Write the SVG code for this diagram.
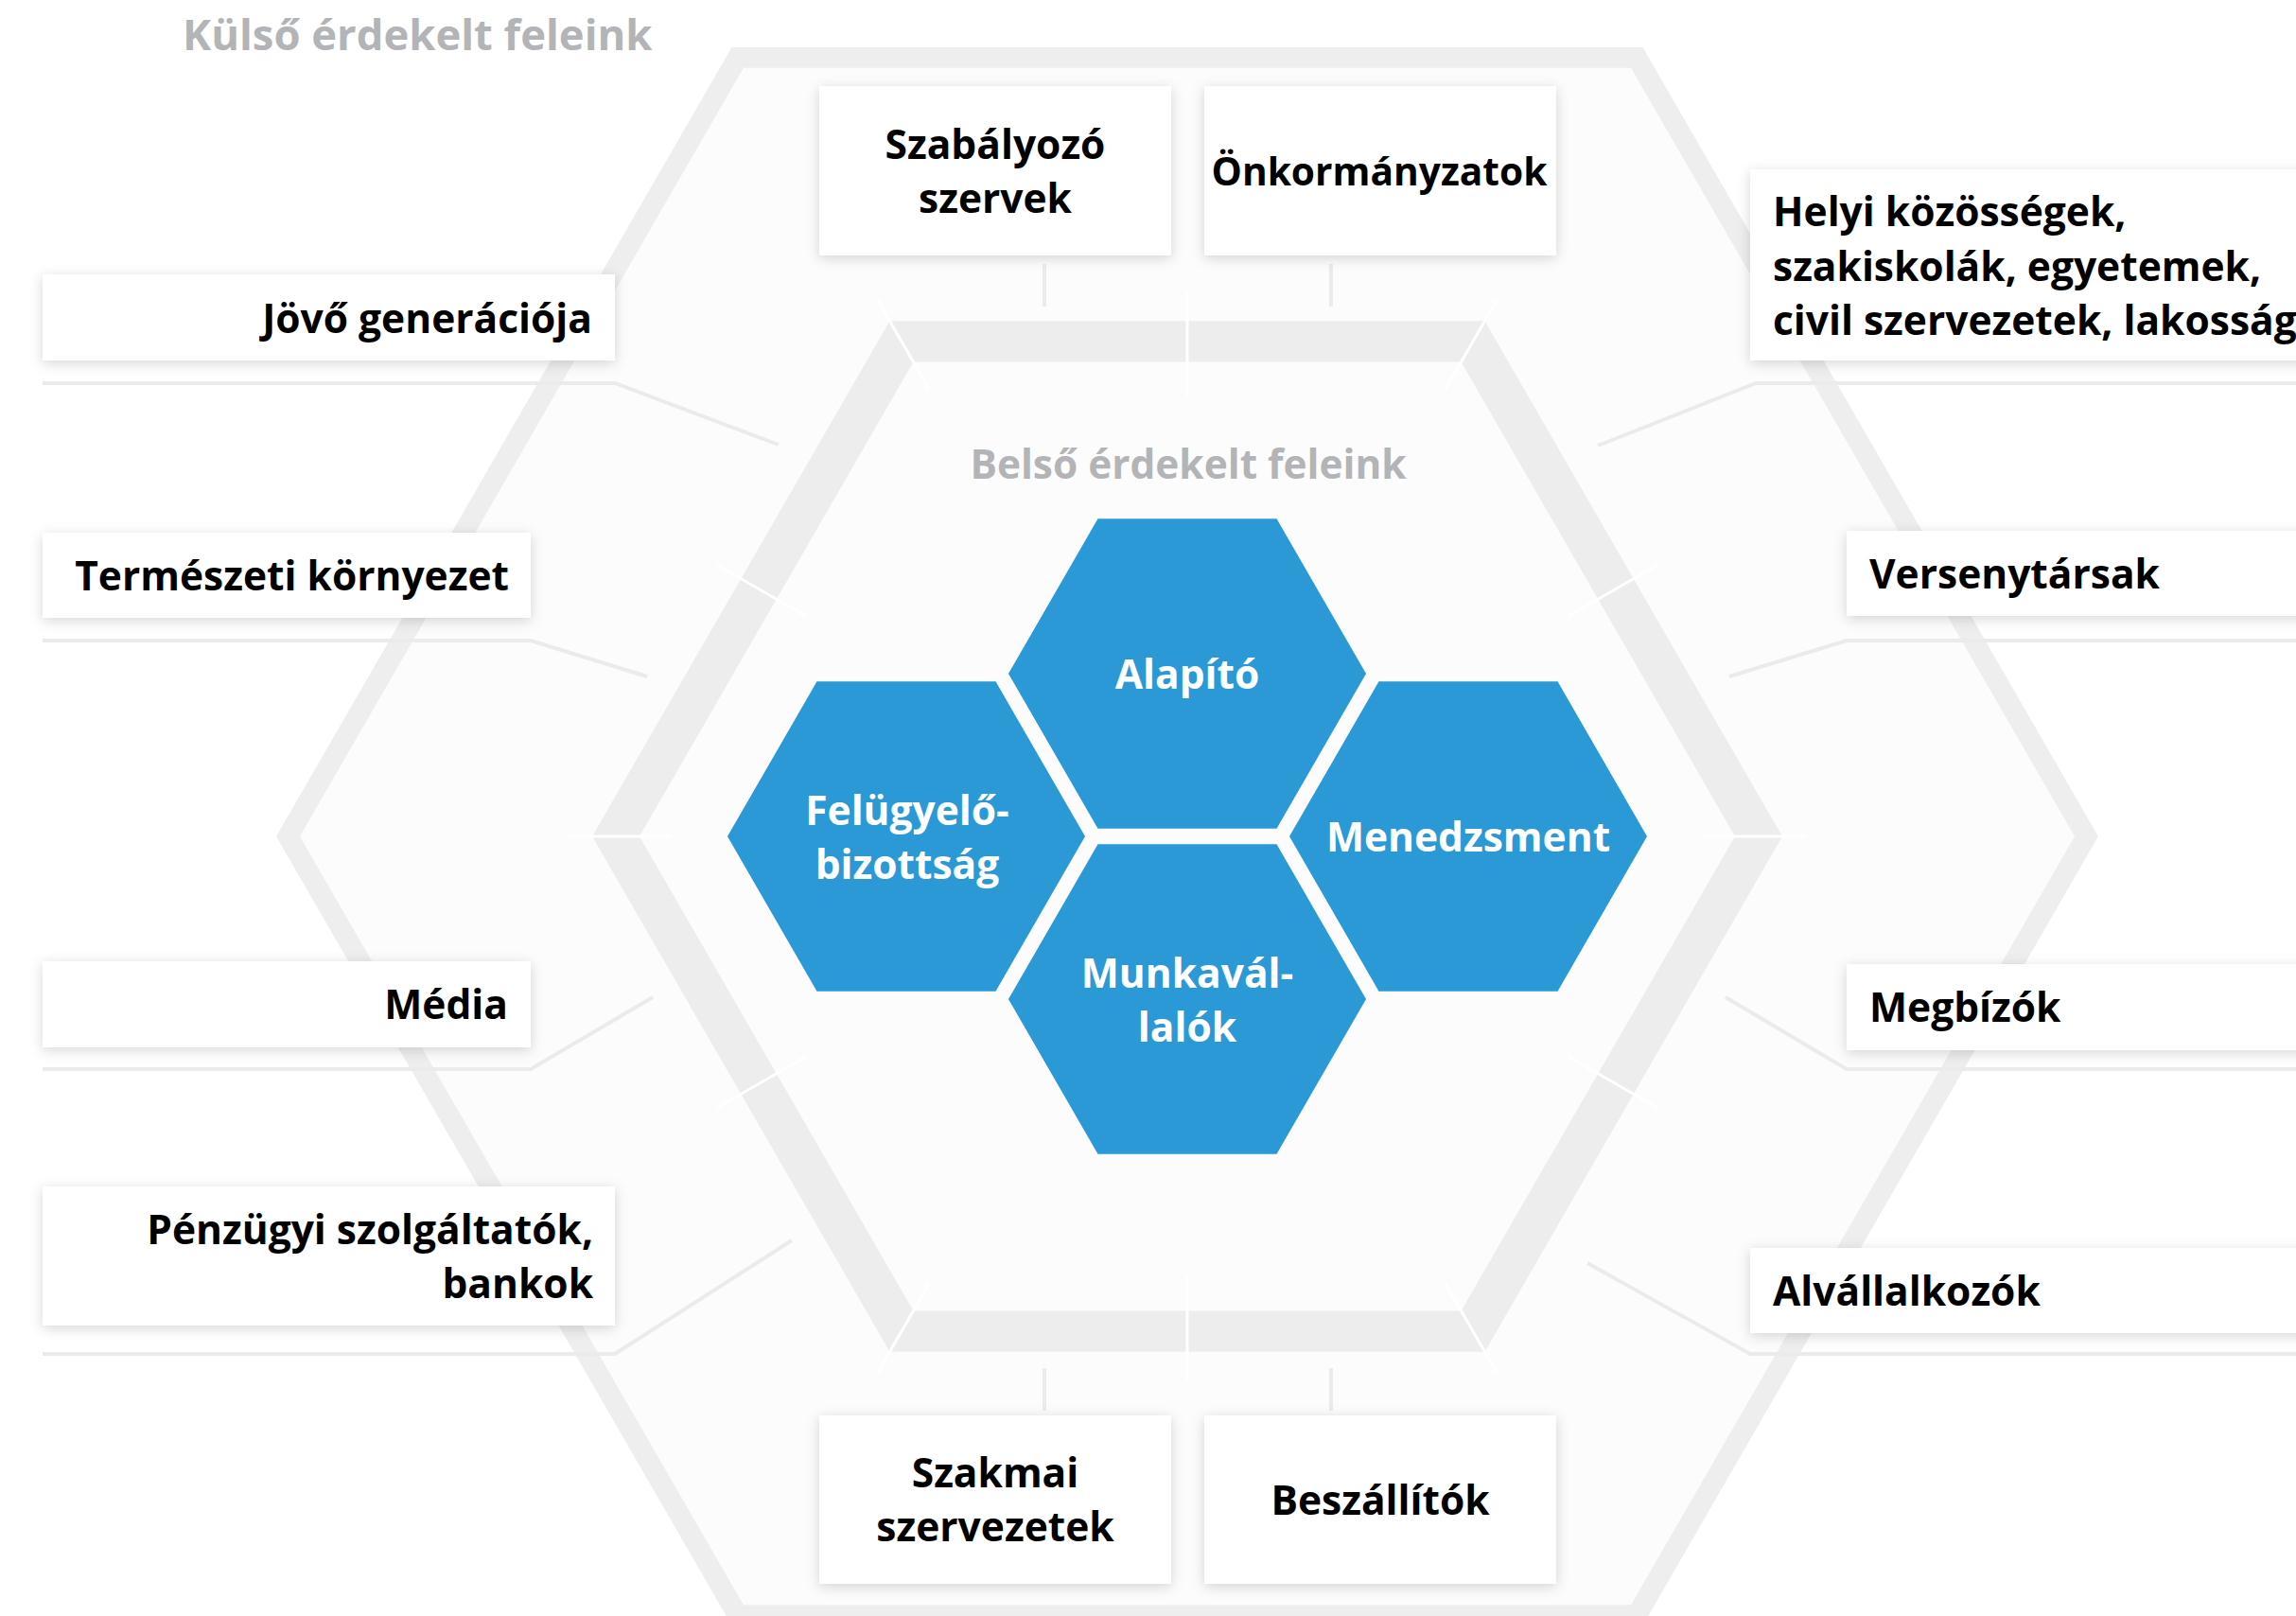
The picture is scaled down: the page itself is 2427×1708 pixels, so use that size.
<svg xmlns="http://www.w3.org/2000/svg" width="2427" height="1708" viewBox="0 0 2427 1708">
<defs>
<filter id="sh" x="-10%" y="-30%" width="120%" height="160%">
<feDropShadow dx="0" dy="3" stdDeviation="7" flood-color="#000" flood-opacity="0.16"/>
</filter>
</defs>
<style>
.box{fill:#fff;filter:url(#sh)}
.t{font-family:"Open Sans","Liberation Sans",sans-serif;font-weight:700;font-size:42.5px;fill:#000}
.t.narrow{font-size:40.7px}
.w{font-family:"Open Sans","Liberation Sans",sans-serif;font-weight:700;font-size:42.5px;fill:#fff;text-anchor:middle}
.g{font-family:"Open Sans","Liberation Sans",sans-serif;font-weight:700;fill:#b3b4b7}
.c{fill:none;stroke:#ebebeb;stroke-width:4}
.d{stroke:#fff;stroke-width:3}
.hex{fill:#2a99d6}
.mid{text-anchor:middle}
.end{text-anchor:end}
</style>
<rect width="2427" height="1708" fill="#fff"/>
<g id="frame">
<polygon points="317,884 786,71.7 1724,71.7 2193,884 1724,1696.3 786,1696.3" fill="#fcfcfc"/>
<path fill="#eeeeee" fill-rule="evenodd" d="M292,884 L773.5,50 L1736.5,50 L2218,884 L1736.5,1718 L773.5,1718 Z M317,884 L786,1696.3 L1724,1696.3 L2193,884 L1724,71.7 L786,71.7 Z"/>
<path fill="#ededed" fill-rule="evenodd" d="M626,884 L940.5,339.3 L1569.5,339.3 L1884,884 L1569.5,1428.7 L940.5,1428.7 Z M676,884 L965.5,1385.4 L1544.5,1385.4 L1834,884 L1544.5,382.6 L965.5,382.6 Z"/>
<g class="d">
<line x1="1910" y1="884" x2="1800" y2="884"/>
<line x1="600" y1="884" x2="710" y2="884"/>
<line x1="927.5" y1="316.8" x2="982.5" y2="412"/>
<line x1="1582.5" y1="316.8" x2="1527.5" y2="412"/>
<line x1="927.5" y1="1451.2" x2="982.5" y2="1356"/>
<line x1="1582.5" y1="1451.2" x2="1527.5" y2="1356"/>
<line x1="1255" y1="309" x2="1255" y2="419"/>
<line x1="1255" y1="1459" x2="1255" y2="1349"/>
<line x1="1753" y1="596.5" x2="1657.7" y2="651.5"/>
<line x1="757" y1="596.5" x2="852.3" y2="651.5"/>
<line x1="1753" y1="1171.5" x2="1657.7" y2="1116.5"/>
<line x1="757" y1="1171.5" x2="852.3" y2="1116.5"/>
</g>
<text class="g" x="193" y="53" font-size="45.4">Külső érdekelt feleink</text>
<text class="g mid" x="1256" y="506" font-size="42.4">Belső érdekelt feleink</text>
</g>
<g id="connectors">
<polyline class="c" points="45,405 650,405 823,470"/>
<polyline class="c" points="45,677 561,677 684,715"/>
<polyline class="c" points="45,1130 561,1130 690,1054"/>
<polyline class="c" points="45,1431 650,1431 837,1311"/>
<polyline class="c" points="2427,405 1856,405 1689,471"/>
<polyline class="c" points="2427,677 1952,677 1828,715"/>
<polyline class="c" points="2427,1130 1952,1130 1824,1054"/>
<polyline class="c" points="2427,1431 1850,1431 1678,1335"/>
<line class="c" x1="1104" y1="279" x2="1104" y2="324"/>
<line class="c" x1="1407" y1="279" x2="1407" y2="324"/>
<line class="c" x1="1104" y1="1446" x2="1104" y2="1491"/>
<line class="c" x1="1407" y1="1446" x2="1407" y2="1491"/>
</g>
<g id="szabalyozo"><rect class="box" x="866" y="91" width="372" height="179"/><text class="t mid" x="1052" y="168">Szabályozó</text><text class="t mid" x="1052" y="225">szervek</text></g>
<g id="onkormanyzatok"><rect class="box" x="1273" y="91" width="372" height="179"/><text class="t narrow mid" x="1458" y="196">Önkormányzatok</text></g>
<g id="jovo"><rect class="box" x="45" y="290" width="605" height="91"/><text class="t end" x="626" y="352">Jövő generációja</text></g>
<g id="termeszeti"><rect class="box" x="45" y="563" width="516" height="90"/><text class="t end" x="538" y="624">Természeti környezet</text></g>
<g id="media"><rect class="box" x="45" y="1016" width="516" height="91"/><text class="t end" x="537" y="1077">Média</text></g>
<g id="penzugyi"><rect class="box" x="45" y="1254" width="605" height="147"/><text class="t end" x="627" y="1315">Pénzügyi szolgáltatók,</text><text class="t end" x="627" y="1372">bankok</text></g>
<g id="szakmai"><rect class="box" x="866" y="1496" width="372" height="178"/><text class="t mid" x="1052" y="1572">Szakmai</text><text class="t mid" x="1052" y="1629">szervezetek</text></g>
<g id="beszallitok"><rect class="box" x="1273" y="1496" width="372" height="178"/><text class="t mid" x="1459" y="1601">Beszállítók</text></g>
<g id="helyi"><rect class="box" x="1850" y="179" width="620" height="202"/><text class="t" x="1874" y="239">Helyi közösségek,</text><text class="t" x="1874" y="297">szakiskolák, egyetemek,</text><text class="t" x="1874" y="354">civil szervezetek, lakosság</text></g>
<g id="versenytarsak"><rect class="box" x="1952" y="561" width="520" height="90"/><text class="t" x="1976" y="622">Versenytársak</text></g>
<g id="megbizok"><rect class="box" x="1952" y="1019" width="520" height="91"/><text class="t" x="1976" y="1080">Megbízók</text></g>
<g id="alvallalkozok"><rect class="box" x="1850" y="1319" width="620" height="90"/><text class="t" x="1874" y="1380">Alvállalkozók</text></g>
<g id="alapito"><polygon class="hex" points="1066,712 1160.5,548.3 1349.5,548.3 1444,712 1349.5,875.7 1160.5,875.7"/><text class="w" x="1255" y="728">Alapító</text></g>
<g id="felugyelo"><polygon class="hex" points="769,884 863.5,720.3 1052.5,720.3 1147,884 1052.5,1047.7 863.5,1047.7"/><text class="w" x="959" y="872">Felügyelő-</text><text class="w" x="959" y="929">bizottság</text></g>
<g id="menedzsment"><polygon class="hex" points="1363,884 1457.5,720.3 1646.5,720.3 1741,884 1646.5,1047.7 1457.5,1047.7"/><text class="w" x="1552" y="900">Menedzsment</text></g>
<g id="munkavallalok"><polygon class="hex" points="1066,1056 1160.5,892.3 1349.5,892.3 1444,1056 1349.5,1219.7 1160.5,1219.7"/><text class="w" x="1255" y="1044">Munkavál-</text><text class="w" x="1255" y="1101">lalók</text></g>
</svg>
